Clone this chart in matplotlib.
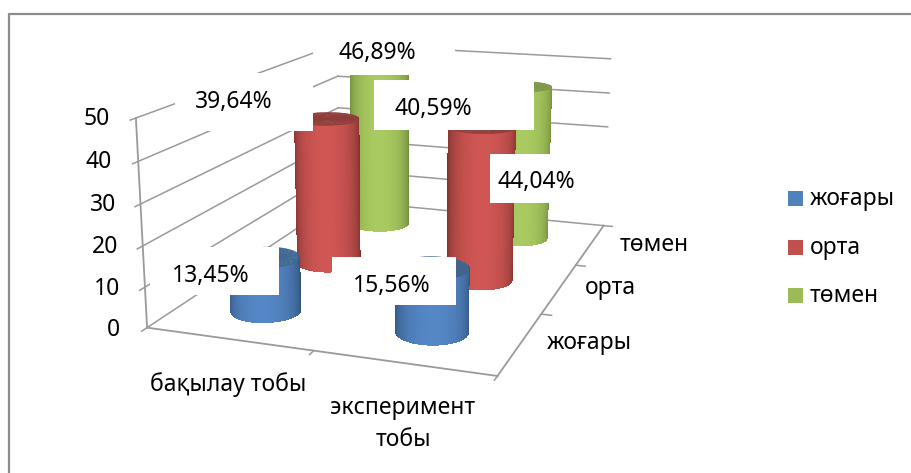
import numpy as np
import matplotlib as mpl
from matplotlib import pyplot as plt
from matplotlib.colors import to_rgb
from matplotlib.patches import Rectangle

mpl.rcParams['font.family'] = ['Noto Sans', 'DejaVu Sans']

groups = ["бақылау тобы", "эксперимент\nтобы"]
series = ["жоғары", "орта", "төмен"]
vals_high = [13.45, 15.56]
vals_mid = [39.64, 40.59]
vals_low = [46.89, 44.04]
all_vals = [vals_high, vals_mid, vals_low]
val_labels = [["13,45%", "15,56%"], ["39,64%", "40,59%"], ["46,89%", "44,04%"]]
zticks = [0, 10, 20, 30, 40, 50]

dark = ["#2f5078", "#7a2f2d", "#6a8238"]
light = ["#5487c6", "#cf5653", "#a8ca60"]
cap = ["#3c6692", "#8f3d3a", "#80994b"]
legend_col = ["#4f81bd", "#c0504d", "#9bbb59"]

ELEV, AZIM, FOCAL = 14.5, -70.5, 0.37
RX, RY = 0.2, 0.21

fig = plt.figure(figsize=(9.12, 4.73), dpi=100)
ax = fig.add_axes([75 / 912, -34 / 473, 638 / 912, 638 / 473], projection='3d', computed_zorder=False)
ax.set_proj_type('persp', focal_length=FOCAL)
ax.view_init(elev=ELEV, azim=AZIM)
ax.set_box_aspect((2.0, 2.8, 1.18), zoom=0.90)
ax.set_xlim(-0.5, 1.5)
ax.set_ylim(-0.5, 2.5)
ax.set_zlim(0, 50)
ax.set_axis_off()
ax.patch.set_alpha(0)

gray = "#9a9a9a"
# walls and floor
for z in zticks:
    ax.plot([-0.5, -0.5], [-0.5, 2.5], [z, z], color=gray, lw=1.1, zorder=1)
    ax.plot([-0.5, 1.5], [2.5, 2.5], [z, z], color=gray, lw=1.1, zorder=1)
    ax.plot([-0.5, -0.5], [-0.5, -0.56], [z, z], color=gray, lw=1.1, zorder=1)
ax.plot([-0.5, -0.5], [-0.5, -0.5], [0, 50], color=gray, lw=1.3, zorder=1)
ax.plot([-0.5, 1.5], [-0.5, -0.5], [0, 0], color=gray, lw=1.3, zorder=1)
ax.plot([1.5, 1.5], [-0.5, 2.5], [0, 0], color=gray, lw=1.3, zorder=1)
for xt in [0.5, 1.5]:
    ax.plot([xt, xt], [-0.5, -0.56], [0, 0], color=gray, lw=1.1, zorder=1)
for yt in [0.5, 1.5, 2.5]:
    ax.plot([1.5, 1.56], [yt, yt], [0, 0], color=gray, lw=1.1, zorder=1)

view = np.deg2rad(AZIM)
theta = view + np.deg2rad(np.linspace(-100, 100, 81))
circle = np.linspace(0, 2 * np.pi, 73)
z_idx = 2
for s in [2, 1, 0]:
    for g in [0, 1]:
        h = all_vals[s][g]
        tt, zz = np.meshgrid(theta, [0, h])
        xx = g + RX * np.cos(tt)
        yy = s + RY * np.sin(tt)
        mid = 0.5 * (tt[:-1, :-1] + tt[:-1, 1:])
        f = np.clip(np.cos(mid - view), 0, 1)
        c0 = np.array(to_rgb(dark[s]))
        c1 = np.array(to_rgb(light[s]))
        fc = c0 + (c1 - c0) * f[..., None]
        ax.plot_surface(xx, yy, zz, facecolors=fc, shade=False, rstride=1, cstride=1,
                        linewidth=0, antialiased=False, zorder=z_idx)
        tt2, rr2 = np.meshgrid(circle, [0, 1])
        ax.plot_surface(g + RX * rr2 * np.cos(tt2), s + RY * rr2 * np.sin(tt2), h + 0 * tt2,
                        color=cap[s], shade=False, rstride=1, cstride=1,
                        linewidth=0.3, edgecolor=cap[s], zorder=z_idx + 1)
        z_idx += 2

# pixel overlay: frame, label boxes, axis text, legend
ov = fig.add_axes([0, 0, 1, 1], facecolor='none')
ov.set_xlim(0, 912)
ov.set_ylim(473, 0)
ov.axis('off')
ov.plot([9.5, 9.5, 912], [473, 14.5, 14.5], color="#8c8c8c", lw=1.6)

boxes = {(0, 0): (150, 247, 279, 295), (0, 1): (332, 257, 456, 305),
         (1, 0): (175, 73, 313, 131), (1, 1): (374, 80, 534, 130),
         (2, 0): (313, 28, 455, 75), (2, 1): (490, 154, 615, 203)}
text_pos = {(0, 0): (211, 276), (0, 1): (392, 286), (1, 0): (234, 102),
            (1, 1): (433, 109), (2, 0): (377, 53), (2, 1): (536, 182)}
for key, (x0, y0, x1, y1) in boxes.items():
    ov.add_patch(Rectangle((x0, y0), x1 - x0, y1 - y0, fc='white', ec='none', zorder=5))
for key, (tx, ty) in text_pos.items():
    ov.text(tx, ty, val_labels[key[0]][key[1]], ha='center', va='center', fontsize=16.5,
            color='black', zorder=6)

tick_xy = [(120, 330), (120, 289), (118, 247), (116, 205), (112, 162), (110, 119)]
for v, (tx, ty) in zip(zticks, tick_xy):
    ov.text(tx, ty, str(v), ha='right', va='center', fontsize=16.5, color='black')

ov.text(228, 385, groups[0], ha='center', va='center', fontsize=16.5)
ov.text(403, 424, groups[1], ha='center', va='center', fontsize=16.5, linespacing=1.45)
for name, (tx, ty) in zip(series, [(589, 343), (610, 288), (654, 245)]):
    ov.text(tx, ty, name, ha='center', va='center', fontsize=16.5)

for i, (name, ly) in enumerate(zip(series, [198.5, 247.5, 295.5])):
    ov.add_patch(Rectangle((788, ly - 7.5), 15, 15, fc=legend_col[i], ec='none'))
    ov.text(810, ly, name, ha='left', va='center', fontsize=16.5)

fig.savefig("out.png", dpi=100)
